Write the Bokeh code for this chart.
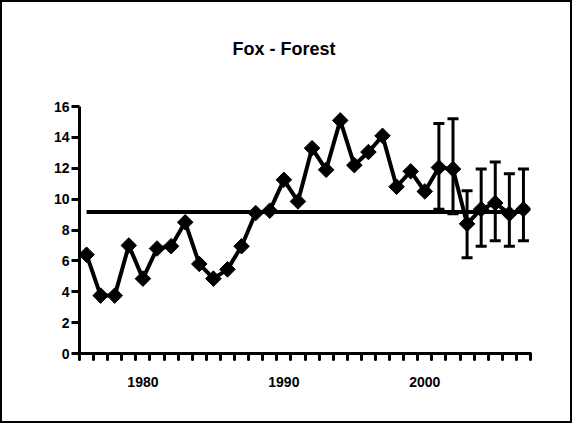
import numpy as np
from bokeh.plotting import figure
from bokeh.models import Range1d, FixedTicker, Whisker, TeeHead, ColumnDataSource, Title
from bokeh.embed import file_html
from bokeh.resources import INLINE

# Annual fox index in forest habitat
years = list(range(1976, 2008))
foxes = [6.4, 3.75, 3.75, 7.0, 4.85, 6.8, 6.95, 8.5, 5.8, 4.85,
         5.45, 6.95, 9.1, 9.25, 11.25, 9.85, 13.3, 11.9, 15.1, 12.2,
         13.05, 14.1, 10.8, 11.8, 10.5, 12.05, 11.95, 8.4, 9.35, 9.75,
         9.05, 9.35]

# Confidence limits for the recent years
err_years = [2001, 2002, 2003, 2004, 2005, 2006, 2007]
err_upper = [14.9, 15.2, 10.55, 11.95, 12.4, 11.65, 11.95]
err_lower = [9.35, 9.05, 6.2, 6.95, 7.3, 6.95, 7.3]

y_ticks = [0, 2, 4, 6, 8, 10, 12, 14, 16]
decade_labels = [1980, 1990, 2000]
title_text = "Fox - Forest"

FONT = "Liberation Sans"

p = figure(width=572, height=423, output_backend="svg", toolbar_location=None,
           x_range=Range1d(1975.5, 2007.5), y_range=Range1d(0, 16),
           min_border_left=77, min_border_right=44,
           min_border_top=104, min_border_bottom=72,
           title=title_text)
p.styles = {"border": "2px solid black"}
p.outline_line_color = None
p.grid.visible = False

# heading
p.title.align = "left"
p.title.offset = 153
p.title.standoff = 0
p.title.text_font = FONT
p.title.text_font_size = "18px"
p.title.text_font_style = "bold"
p.title.text_color = "black"

# blank panel that keeps the heading clear of the plot area
p.add_layout(Title(text=" ", standoff=26, text_font=FONT,
                   text_font_size="18px"), "above")

# y axis
ya = p.yaxis[0]
ya.ticker = FixedTicker(ticks=y_ticks, minor_ticks=[])
ya.axis_line_width = 3
ya.major_tick_line_width = 3
ya.major_tick_out = 8
ya.major_tick_in = 0
ya.minor_tick_out = 0
ya.major_label_standoff = 2
ya.major_label_text_font = FONT
ya.major_label_text_font_size = "14px"
ya.major_label_text_font_style = "bold"
ya.major_label_text_color = "black"

# x axis: a tick between every year, labels on the decades
xa = p.xaxis[0]
xa.ticker = FixedTicker(ticks=decade_labels,
                        minor_ticks=[y - 0.5 for y in years] + [years[-1] + 0.5])
xa.axis_line_width = 3
xa.major_tick_out = 0
xa.major_tick_in = 0
xa.minor_tick_out = 6
xa.minor_tick_in = 0
xa.minor_tick_line_width = 3
xa.minor_tick_line_cap = "round"
xa.major_label_standoff = 17
xa.major_label_text_font = FONT
xa.major_label_text_font_size = "14px"
xa.major_label_text_font_style = "bold"
xa.major_label_text_color = "black"

# long-term mean
mean_value = float(np.mean(foxes))
p.line([years[0], years[-1]], [mean_value, mean_value], line_width=4, color="black")

# error bars
src = ColumnDataSource(dict(x=err_years, upper=err_upper, lower=err_lower))
p.add_layout(Whisker(base="x", upper="upper", lower="lower", source=src,
                     line_width=3, line_color="black",
                     upper_head=TeeHead(size=11, line_width=3, line_color="black"),
                     lower_head=TeeHead(size=11, line_width=3, line_color="black")))

# series
p.line(years, foxes, line_width=4, color="black", line_join="round")
p.scatter(years, foxes, marker="square", angle=np.pi / 4, size=11,
          color="black")

open("out.html", "w").write(file_html(p, INLINE))
